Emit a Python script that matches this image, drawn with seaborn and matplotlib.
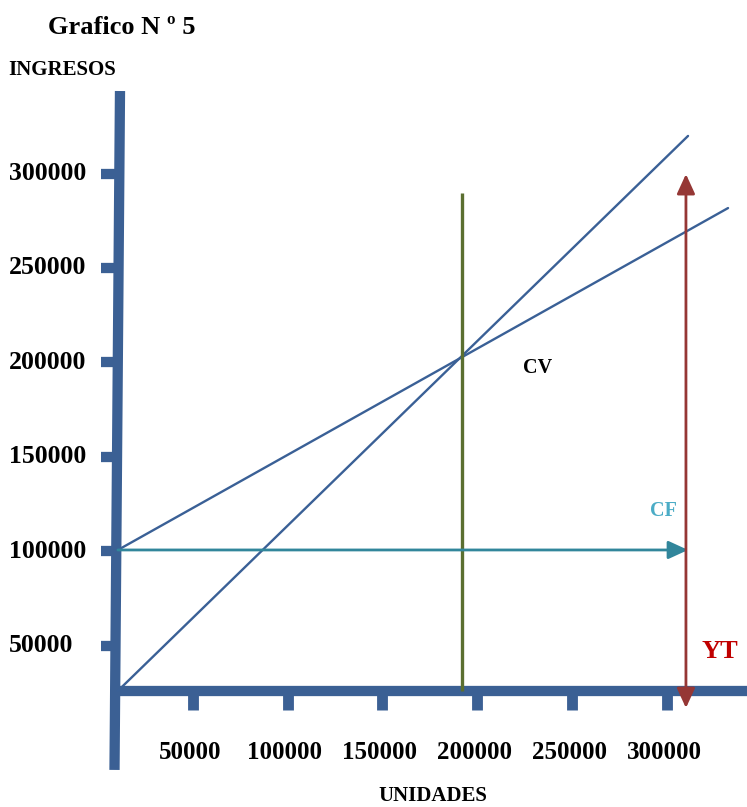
import pandas as pd
import matplotlib.pyplot as plt
import matplotlib.transforms as mtransforms
import numpy as np
import seaborn as sns

# values (units on x, ingresos on y)
tick_values = [50000, 100000, 150000, 200000, 250000, 300000]
tick_labels = ['50000', '100000', '150000', '200000', '250000', '300000']

axis_units = 10500      # where the vertical axis stands
axis_income = 26000     # where the horizontal axis stands

ingreso_units = [10500, 311200]
ingreso_vals = [26000, 319900]
costo_units = [10500, 332300]
costo_vals = [100600, 281700]

equilibrio_units = 192000
equilibrio_top = 289700

cf_value = 100600
cf_end = 311200

yt_units = 310100
yt_range = [16900, 299700]

sns.set_style('white')
plt.rcParams['font.family'] = ['Liberation Serif', 'DejaVu Serif']
plt.rcParams['font.weight'] = 'bold'
plt.rcParams['text.color'] = 'black'

axis_blue = '#3b6094'
line_blue = '#3a6096'

fig = plt.figure(figsize=(7.47, 8.07), dpi=100)
ax = fig.add_axes([0, 0, 1, 1])
ax.set_xlim(-51690, 342300)
ax.set_ylim(-35540, 391900)
ax.axis('off')

# thick axes
ax.plot([11600, 8700], [343700, -15900], color=axis_blue, lw=7.4, solid_capstyle='butt')
ax.plot([7400, 342300], [25900, 25900], color=axis_blue, lw=7.4, solid_capstyle='butt')

# tick marks and labels
left_trans = mtransforms.blended_transform_factory(fig.transFigure, ax.transData)
for v, lab in zip(tick_values, tick_labels):
    ax.plot([1580, axis_units], [v, v], color=axis_blue, lw=7.4, solid_capstyle='butt')
    ax.text(9 / 747, v, lab, transform=left_trans, ha='left', va='center',
            fontsize=18.5, fontweight='bold')
for v, lab in zip(tick_values, tick_labels):
    ax.plot([v, v], [25900, 15840], color=axis_blue, lw=7.8, solid_capstyle='butt')
    ax.annotate(lab, xy=(v, 25900), xytext=(-2, -44), textcoords='offset points',
                ha='center', va='center', fontsize=18, fontweight='bold')

# revenue and cost lines
df = pd.DataFrame({
    'unidades': ingreso_units + costo_units,
    'valor': ingreso_vals + costo_vals,
    'serie': ['ingreso'] * 2 + ['costo'] * 2,
})
sns.lineplot(data=df, x='unidades', y='valor', hue='serie', palette=[line_blue, line_blue],
             estimator=None, sort=False, legend=False, linewidth=1.7, ax=ax)
ax.set_xlabel('')
ax.set_ylabel('')

# break-even vertical
ax.plot([equilibrio_units, equilibrio_units], [axis_income, equilibrio_top],
        color='#5b6f30', lw=2.4, solid_capstyle='butt')

# CF arrow
ax.annotate('', xy=(cf_end, cf_value), xytext=(axis_units, cf_value),
            arrowprops=dict(arrowstyle='-|>,head_length=1.2,head_width=0.55',
                            mutation_scale=10, color='#31869b', lw=2.0,
                            shrinkA=0, shrinkB=0))
# YT arrow
ax.annotate('', xy=(yt_units, yt_range[1]), xytext=(yt_units, yt_range[0]),
            arrowprops=dict(arrowstyle='<|-|>,head_length=1.2,head_width=0.55',
                            mutation_scale=10, color='#953735', lw=2.0,
                            shrinkA=0, shrinkB=0))

ax.text(232100, 197000, 'CV', ha='center', va='center', fontsize=14.5, fontweight='bold')
ax.text(298000, 121300, 'CF', ha='center', va='center', fontsize=14.5, fontweight='bold',
        color='#4bacc6')
ax.text(328100, 46600, 'YT', ha='center', va='center', fontsize=19, fontweight='bold',
        color='#c00000')

fig.text(48 / 747, 1 - 28 / 807, 'Grafico N º 5', ha='left', va='center',
         fontsize=19, fontweight='bold')
fig.text(8 / 747, 1 - 70 / 807, 'INGRESOS', ha='left', va='center',
         fontsize=15, fontweight='bold')
fig.text(433 / 747, 1 - 796 / 807, 'UNIDADES', ha='center', va='center',
         fontsize=15, fontweight='bold')

fig.savefig('out.png', dpi=100)
